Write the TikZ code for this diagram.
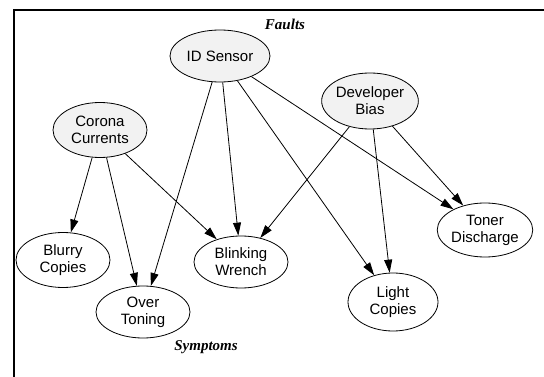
\documentclass[tikz,border=0pt]{standalone}
\usepackage{fontspec}
\setmainfont{Liberation Sans}
\newfontfamily\labfont{Liberation Serif}
\usetikzlibrary{arrows.meta,shapes.geometric}
\begin{document}
\begin{tikzpicture}[x=1pt,y=-1pt,
  evnode/.style={draw,ellipse,line width=0.8pt,inner sep=0pt,align=center,
    font=\fontsize{15}{17}\selectfont},
  fault/.style={evnode,fill=black!5},
  symp/.style={evnode,fill=white},
  link/.style={line width=0.8pt,-{Triangle[length=13pt,width=8pt]}},
  grouplab/.style={font=\labfont\bfseries\itshape\fontsize{15}{17}\selectfont}]
\useasboundingbox (0,0) rectangle (544,377);
\draw[line width=2pt] (544,10) -- (14,10) -- (14,377);
\node[grouplab] (faults) at (285,24) {Faults};
\node[grouplab] (symptoms) at (206,347) {Symptoms};
\node[fault,minimum width=100pt,minimum height=52pt] (ids) at (220,56) {ID Sensor};
\node[fault,minimum width=94pt,minimum height=56pt] (dev) at (370,101) {Developer\\Bias};
\node[fault,minimum width=94pt,minimum height=55pt] (cor) at (100,130) {Corona\\Currents};
\node[symp,minimum width=94pt,minimum height=55pt] (blur) at (63,260) {Blurry\\Copies};
\node[symp,minimum width=94pt,minimum height=52pt] (over) at (143,312) {Over\\Toning};
\node[symp,minimum width=94pt,minimum height=52pt] (blink) at (241,262) {Blinking\\Wrench};
\node[symp,minimum width=90pt,minimum height=58pt] (light) at (393,302) {Light\\Copies};
\node[symp,minimum width=94pt,minimum height=54pt] (toner) at (485,230) {Toner\\Discharge};
\draw[link] (ids) -- (over);
\draw[link] (ids) -- (blink);
\draw[link] (ids) -- (light);
\draw[link] (ids) -- (toner);
\draw[link] (dev) -- (blink);
\draw[link] (dev) -- (light);
\draw[link] (dev) -- (toner);
\draw[link] (cor) -- (blur);
\draw[link] (cor) -- (over);
\draw[link] (cor) -- (blink);
\end{tikzpicture}
\end{document}
